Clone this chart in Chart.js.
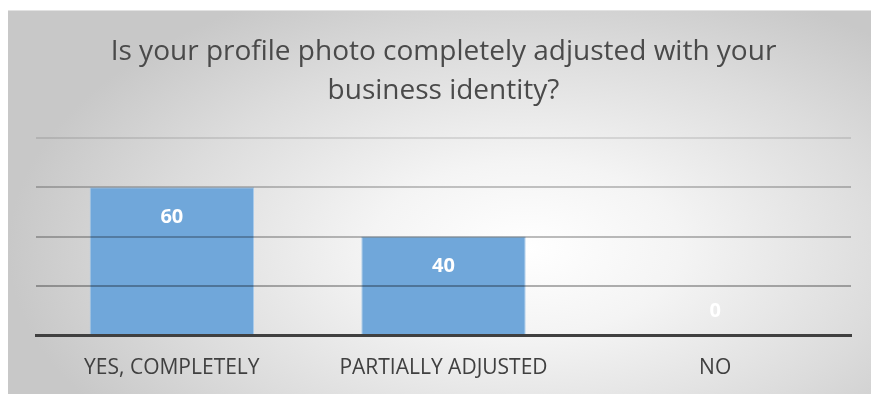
<!DOCTYPE html>
<html>
<head>
<meta charset="utf-8">
<script src="https://cdn.jsdelivr.net/npm/chart.js@4.4.0/dist/chart.umd.min.js"></script>
<style>
  html, body { margin: 0; padding: 0; background: #fff; }
  #panel {
    position: absolute; left: 8px; top: 10px; width: 863px; height: 384px;
    border-top: 1px solid #e2e2e2; box-sizing: border-box;
    background: radial-gradient(ellipse 60% 75% at 60% 62%, #ffffff 0%, #f4f4f4 30%, #dcdcdc 70%, #c8c8c8 100%);
  }
  #chart { display: block; }
</style>
</head>
<body>
<div id="panel"><canvas id="chart" width="863" height="383"></canvas></div>
<script>
// data
const categories = ['YES, COMPLETELY', 'PARTIALLY ADJUSTED', 'NO'];
const answers = [60, 40, 0];
const titleLines = ['Is your profile photo completely adjusted with your', 'business identity?'];
const yMax = 80;
const yStep = 20;

// value labels like Excel "inside end"
const barLabels = {
  id: 'barLabels',
  afterDatasetsDraw(chart) {
    const ctx = chart.ctx;
    const meta = chart.getDatasetMeta(0);
    ctx.save();
    ctx.font = "bold 20px 'Open Sans', sans-serif";
    ctx.fillStyle = '#ffffff';
    ctx.textAlign = 'center';
    ctx.textBaseline = 'middle';
    meta.data.forEach((bar, i) => {
      const v = answers[i];
      const y = v > 0 ? bar.y + 30 : bar.y - 24;
      ctx.fillText(String(v), bar.x, y);
    });
    ctx.restore();
  }
};

const gridColors = { 20: 'rgba(0,0,0,0.30)', 40: 'rgba(0,0,0,0.26)', 60: 'rgba(0,0,0,0.22)', 80: 'rgba(0,0,0,0.10)' };

new Chart(document.getElementById('chart').getContext('2d'), {
  type: 'bar',
  data: {
    labels: categories,
    datasets: [{
      data: answers,
      backgroundColor: '#70a7da',
      borderColor: '#a9cbea',
      borderWidth: 1,
      barPercentage: 0.605,
      categoryPercentage: 1.0,
    }],
  },
  options: {
    responsive: false,
    animation: false,
    layout: { padding: { left: 28, right: 20, top: 0, bottom: 0 } },
    plugins: {
      legend: { display: false },
      tooltip: { enabled: false },
      title: {
        display: true,
        text: titleLines,
        color: '#4a4a4a',
        font: { family: "'Open Sans', sans-serif", size: 28, weight: 'normal', lineHeight: 1.39 },
        padding: { top: 21.5, bottom: 27.7 },
      },
    },
    scales: {
      x: {
        grid: { display: false, drawTicks: false },
        border: { display: true, color: '#404040', width: 3, z: 2 },
        afterFit: (s) => { s.height = 59; },
        ticks: {
          color: '#404040',
          padding: 20,
          font: { family: "'Open Sans', sans-serif", size: 21 },
        },
      },
      y: {
        min: 0,
        max: yMax,
        ticks: { stepSize: yStep, display: false },
        border: { display: false },
        grid: {
          z: 1,
          drawTicks: false,
          lineWidth: 2,
          color: (c) => gridColors[c.tick.value] || 'rgba(0,0,0,0)',
        },
      },
    },
  },
  plugins: [barLabels],
});
</script>
</body>
</html>
